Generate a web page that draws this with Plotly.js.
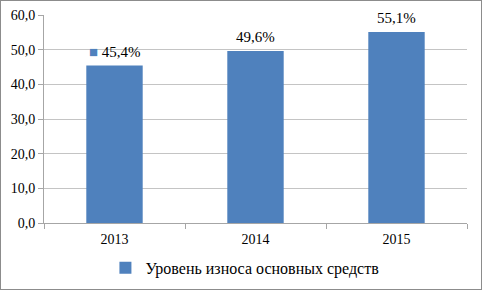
<!DOCTYPE html>
<html><head><meta charset="utf-8">
<script src="https://cdn.plot.ly/plotly-3.0.1.min.js"></script>
<style>
html,body{margin:0;padding:0;background:#fff;}
#wrap{width:482px;height:290px;box-sizing:border-box;border:1px solid #8c8c8c;position:relative;overflow:hidden;}
#chart{position:absolute;left:-1px;top:-1px;width:482px;height:290px;}
</style></head>
<body><div id="wrap"><div id="chart"></div></div>
<script>
var years = ['2013', '2014', '2015'];
var wear = [45.4, 49.6, 55.1];
var seriesName = 'Уровень износа основных средств';
var yTicks = [0, 10, 20, 30, 40, 50, 60];

var barColor = '#4F81BD';
var serif = 'Liberation Serif';
function fmt(v){ return v.toFixed(1).replace('.', ',') + '%'; }

var annotations = years.map(function(y, i){
  var t = fmt(wear[i]);
  if (i === 0) t = '<span style="color:' + barColor + '">■</span> ' + t;
  return {x: i, y: wear[i], xref: 'x', yref: 'y', text: t, showarrow: false,
          yanchor: 'bottom', yshift: 4,
          font: {family: serif, size: 15, color: '#000'}};
});

var data = [{
  type: 'bar', x: years, y: wear, name: seriesName,
  marker: {color: barColor, line: {width: 0}},
  hoverinfo: 'none'
}];

var layout = {
  width: 482, height: 290,
  margin: {l: 44, r: 15, t: 15, b: 67},
  paper_bgcolor: '#fff', plot_bgcolor: '#fff',
  separators: ', ',
  bargap: 0.6,
  showlegend: true,
  font: {family: serif, color: '#000'},
  legend: {orientation: 'h', x: 0.475, xanchor: 'center', yref: 'container', y: 0.076, yanchor: 'middle',
           itemwidth: 30,
           font: {family: serif, size: 16, color: '#000'}},
  xaxis: {type: 'category', range: [-0.5, 2.5], showline: true, linecolor: '#a6a6a6', linewidth: 1,
          ticks: 'outside', tickson: 'boundaries', ticklen: 5, tickcolor: '#a6a6a6',
          ticklabelstandoff: 3,
          showgrid: false, zeroline: false,
          tickfont: {family: serif, size: 14, color: '#000'}},
  yaxis: {range: [0, 60], tickvals: yTicks, tickformat: '.1f',
          showline: true, linecolor: '#a6a6a6', linewidth: 1,
          ticks: 'outside', ticklen: 5, tickcolor: '#a6a6a6',
          showgrid: true, gridcolor: '#c4c4c4', gridwidth: 1, zeroline: false,
          tickfont: {family: serif, size: 14, color: '#000'}},
  annotations: annotations
};

Plotly.newPlot('chart', data, layout, {staticPlot: true, displayModeBar: false});
</script></body></html>
